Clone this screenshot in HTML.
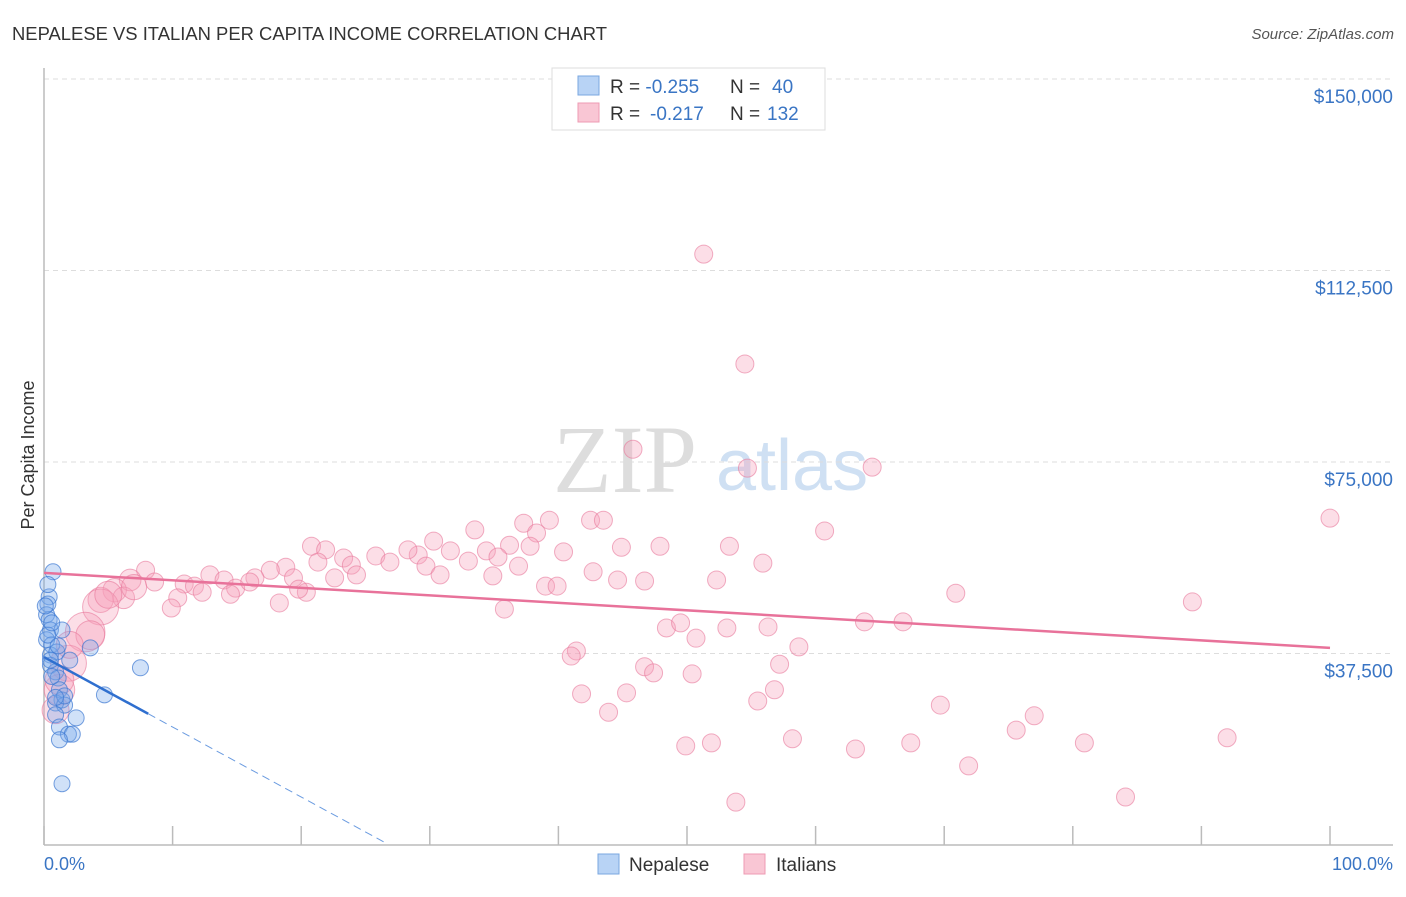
<!DOCTYPE html>
<html><head><meta charset="utf-8"><style>
body{margin:0;background:#fff;font-family:"Liberation Sans",sans-serif}
svg text{font-family:"Liberation Sans",sans-serif}
</style></head><body>
<svg id="c" width="1406" height="892" xmlns="http://www.w3.org/2000/svg">
<text x="12" y="40" font-size="18" fill="#333" textLength="595" lengthAdjust="spacingAndGlyphs">NEPALESE VS ITALIAN PER CAPITA INCOME CORRELATION CHART</text>
<text x="1394" y="39" font-size="15" fill="#555" font-style="italic" text-anchor="end">Source: ZipAtlas.com</text>
<g>
<text x="553" y="492" font-size="96" fill="#ddd" font-family="Liberation Serif" style="font-family:'Liberation Serif',serif">ZIP</text>
<text x="716" y="490" font-size="72" fill="#cfe0f3">atlas</text>
</g>
<g id="grid"></g>
<g id="axes"></g>
<g id="pts"></g>
<g id="trend"></g>
<text transform="translate(34,455) rotate(-90)" font-size="18" fill="#333" text-anchor="middle">Per Capita Income</text>
<text x="44" y="870" font-size="18" fill="#3a75c4">0.0%</text>
<text x="1393" y="870" font-size="18" fill="#3a75c4" text-anchor="end">100.0%</text>
<g>
<rect x="552" y="68" width="273" height="62" fill="#fff" stroke="#ddd"/>
<rect x="578" y="76" width="21" height="19" fill="#b8d3f5" stroke="#7aa7e0"/>
<rect x="578" y="103" width="21" height="19" fill="#f9c6d4" stroke="#ee9bb3"/>
<text x="610" y="93" font-size="19" fill="#333">R = <tspan fill="#3a75c4">-0.255</tspan><tspan x="730">N = </tspan><tspan fill="#3a75c4" x="772">40</tspan></text>
<text x="610" y="120" font-size="19" fill="#333">R = <tspan fill="#3a75c4" x="650">-0.217</tspan><tspan x="730">N = </tspan><tspan fill="#3a75c4" x="767">132</tspan></text>
</g>
<g>
<rect x="598" y="854" width="21" height="20" fill="#b8d3f5" stroke="#7aa7e0"/>
<text x="629" y="871" font-size="19" fill="#333">Nepalese</text>
<rect x="744" y="854" width="21" height="20" fill="#f9c6d4" stroke="#ee9bb3"/>
<text x="776" y="871" font-size="19" fill="#333">Italians</text>
</g>
</svg>
<script>
const yTicks=[37.5,75,112.5,150];
const yTickLabels=["$37,500","$75,000","$112,500","$150,000"];
const xTicks=[0,10,20,30,40,50,60,70,80,90,100];
const italianX=[51.3,54.5,45.8,54.7,64.4,100,60.7,33.5,37.3,39.3,42.5,43.5,38.3,30.3,20.8,21.9,36.2,37.8,40.4,44.9,47.9,53.3,55.9,34.4,31.6,29.1,23.3,25.8,28.3,33.0,35.3,36.9,29.7,26.9,23.9,21.3,18.8,17.6,16.4,42.7,46.7,44.6,52.3,34.9,30.8,24.3,22.6,19.4,12.9,7.9,8.6,10.9,11.7,14.0,14.9,16.0,14.5,12.3,20.4,19.8,6.7,5.5,6.2,4.4,10.4,9.9,18.3,39.0,39.9,35.8,70.9,89.3,48.4,49.5,50.7,53.1,56.3,63.8,66.8,58.7,41.4,41.0,46.7,47.4,50.4,57.2,41.8,45.3,56.8,55.5,43.9,69.7,77.0,75.6,49.9,51.9,58.2,63.1,67.4,80.9,92.0,71.9,84.1,53.8,4.4,3.2,1.9,1.2,0.9,3.6,2.0,1.2,5.0,7.0];
const italianY=[115.7,94.2,77.5,73.8,74.0,64.0,61.5,61.7,63.0,63.6,63.6,63.6,61.1,59.5,58.5,57.8,58.7,58.5,57.4,58.3,58.5,58.5,55.2,57.6,57.6,56.8,56.2,56.6,57.8,55.6,56.4,54.6,54.6,55.4,54.8,55.4,54.4,53.8,52.3,53.5,51.7,51.9,51.9,52.7,52.9,52.9,52.3,52.3,52.9,53.8,51.5,51.1,50.7,51.9,50.3,51.5,49.1,49.5,49.5,50.1,51.9,49.9,48.4,48.0,48.4,46.4,47.4,50.7,50.7,46.2,49.3,47.6,42.5,43.5,40.5,42.5,42.7,43.7,43.7,38.8,38.0,37.0,34.9,33.7,33.5,35.4,29.6,29.8,30.4,28.2,26.0,27.4,25.3,22.5,19.4,20.0,20.8,18.8,20.0,20.0,21.0,15.5,9.4,8.4,46.6,41.7,35.6,30.4,26.4,41.1,39.2,32.3,49.0,50.5];
const italianW=[1,1,1,1,1,1,1,1,1,1,1,1,1,1,1,1,1,1,1,1,1,1,1,1,1,1,1,1,1,1,1,1,1,1,1,1,1,1,1,1,1,1,1,1,1,1,1,1,1,1,1,1,1,1,1,1,1,1,1,1,1.2,1.3,1.2,1.4,1,1,1,1,1,1,1,1,1,1,1,1,1,1,1,1,1,1,1,1,1,1,1,1,1,1,1,1,1,1,1,1,1,1,1,1,1,1,1,1,2,2.2,2,1.7,1.5,1.6,1.5,1.6,1.5,1.4];
const nepaleseX=[0.7,0.4,0.3,0.2,0.4,0.5,1.4,0.2,0.6,0.5,1.0,3.6,7.5,0.5,0.9,1.1,1.2,1.4,0.9,1.6,4.7,0.9,1.2,2.5,1.9,2.2,1.2,1.4,0.5,0.3,0.6,0.1,1.1,2.0,1.6,0.9,0.3,0.6];
const nepaleseY=[53.5,48.6,47.2,45.1,44.1,42.1,42.1,40.2,39.2,37.2,37.8,38.6,34.7,35.2,33.9,32.7,30.4,28.4,27.8,27.4,29.4,25.5,23.1,24.9,21.7,21.7,20.6,12.0,36.2,41.1,43.5,46.8,39.0,36.2,29.2,28.9,51.0,33.0];
const pinkLine=[53.3,38.6];
const blueLine=[36.8,-1.37];
const blueSolidEnd=8.1, blueDashEnd=26.5;
const X=v=>44+v*12.86, Y=v=>845-v*191.5/37.5;
const NS='http://www.w3.org/2000/svg';
function mk(p,t,a){const e=document.createElementNS(NS,t);for(const k in a)e.setAttribute(k,a[k]);document.getElementById(p).appendChild(e);return e;}
yTicks.forEach((t,i)=>{
 const g=mk('grid','line',{x1:44,x2:1393,y1:Y(t),y2:Y(t),stroke:'#ddd','stroke-dasharray':'5,4'});
 
 
 const l=mk('grid','text',{x:1393,y:Y(t)+24,'font-size':19,fill:'#3a75c4','text-anchor':'end'});
 l.textContent=yTickLabels[i];
 
 
});
const ax=mk('axes','line',{x1:44,x2:44,y1:68,y2:845,stroke:'#bbb','stroke-width':1.5});


const bx=mk('axes','line',{x1:44,x2:1393,y1:845,y2:845,stroke:'#bbb','stroke-width':1.5});


xTicks.forEach(t=>{const e=mk('axes','line',{x1:X(t),x2:X(t),y1:826,y2:845,stroke:'#bbb','stroke-width':1.5});
 
 });
italianX.forEach((x,i)=>{const e=mk('pts','circle',{cx:X(x),cy:Y(italianY[i]),r:9*italianW[i],fill:'rgba(246,160,186,0.35)',stroke:'rgba(232,120,155,0.6)','stroke-width':1});
 
 });
nepaleseX.forEach((x,i)=>{const e=mk('pts','circle',{cx:X(x),cy:Y(nepaleseY[i]),r:8,fill:'rgba(120,170,235,0.35)',stroke:'rgba(60,120,210,0.7)','stroke-width':1});
 
 });
const pl=mk('trend','line',{x1:X(0),y1:Y(pinkLine[0]),x2:X(100),y2:Y(pinkLine[1]),stroke:'#e8729a','stroke-width':2.5});


const b1=mk('trend','line',{x1:X(0),y1:Y(blueLine[0]),x2:X(blueSolidEnd),y2:Y(blueLine[0]+blueLine[1]*blueSolidEnd),stroke:'#2f6fcf','stroke-width':2.5});


const b2=mk('trend','line',{x1:X(blueSolidEnd),y1:Y(blueLine[0]+blueLine[1]*blueSolidEnd),x2:X(blueDashEnd),y2:Y(blueLine[0]+blueLine[1]*blueDashEnd),stroke:'#6a9be0','stroke-width':1,'stroke-dasharray':'8,5'});


</script>
</body></html>
